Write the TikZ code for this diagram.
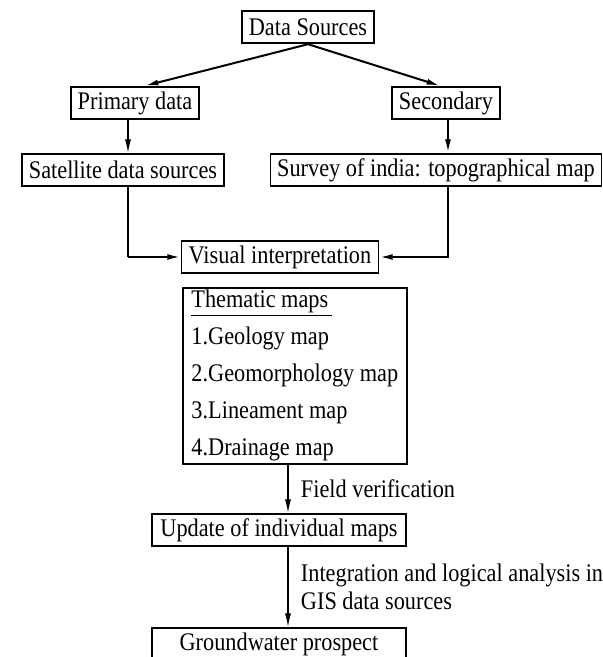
\documentclass[tikz,border=0pt]{standalone}
\usepackage{fontspec}
\setmainfont{Liberation Serif}[FakeStretch=0.88]
\usetikzlibrary{arrows.meta}
\usetikzlibrary{calc}
\usetikzlibrary{positioning}

\tikzset{
  box/.style={draw, line width=1.3pt, inner xsep=5pt, inner ysep=0pt, minimum height=24.5pt},
  thin link/.style={line width=0.8pt},
  bold link/.style={line width=1.5pt},
}

\begin{document}
\begin{tikzpicture}[x=0.75pt, y=-0.75pt, >={Latex[length=10pt,width=4.5pt]},
    font=\fontsize{19}{21}\selectfont]
  \clip (0,0) rectangle (603,657);
  \fill[white] (0,0) rectangle (603,657);

  % boxes
  \node[box] (src) at (308,27) {Data Sources};
  \node[box] (prim) at (135,103) {Primary data};
  \node[box] (sec) at (446,103) {Secondary};
  \node[box] (sat) at (123,170) {Satellite data sources};
  \node[box] (surv) at (436,170) {Survey of india: topographical map};
  \node[box, minimum width=147.75pt] (vis) at (280,257) {Visual interpretation};
  \node[box, anchor=north west, minimum width=168pt, minimum height=132pt,
        align=left, font=\fontsize{19}{27.75}\selectfont] (them) at (182,287)
    {\underline{Thematic maps\,}\\1.Geology map\\2.Geomorphology map\\3.Lineament map\\4.Drainage map};
  \node[box, minimum width=190pt] (upd) at (279,530) {Update of individual maps};
  \node[box, minimum width=190pt] (gw) at (279,644) {Groundwater prospect};

  % columns of the vertical links
  \coordinate (lx) at (128,0);
  \coordinate (rx) at (448,0);
  \coordinate (mx) at (288,0);

  % links
  \draw[->, bold link] (src.south) -- ([xshift=7.5pt]prim.north);
  \draw[->, bold link] (src.south) -- ([xshift=-4.5pt]sec.north);
  \draw[->, thin link] (prim.south -| lx) -- (sat.north -| lx);
  \draw[->, bold link] (sec.south -| rx) -- (surv.north -| rx);
  \draw[thin link] (sat.south -| lx) -- (lx |- vis.west);
  \draw[->, bold link] (lx |- vis.west) -- (vis.west);
  \draw[->, bold link] (surv.south -| rx) |- (vis.east);
  \draw[->, thin link] (them.south -| mx) -- node[right=6pt] {Field verification} (upd.north -| mx);
  \draw[->, thin link] (upd.south -| mx) -- node[right=6pt, align=left]
    {Integration and logical analysis in\\GIS data sources} (gw.north -| mx);
\end{tikzpicture}
\end{document}
